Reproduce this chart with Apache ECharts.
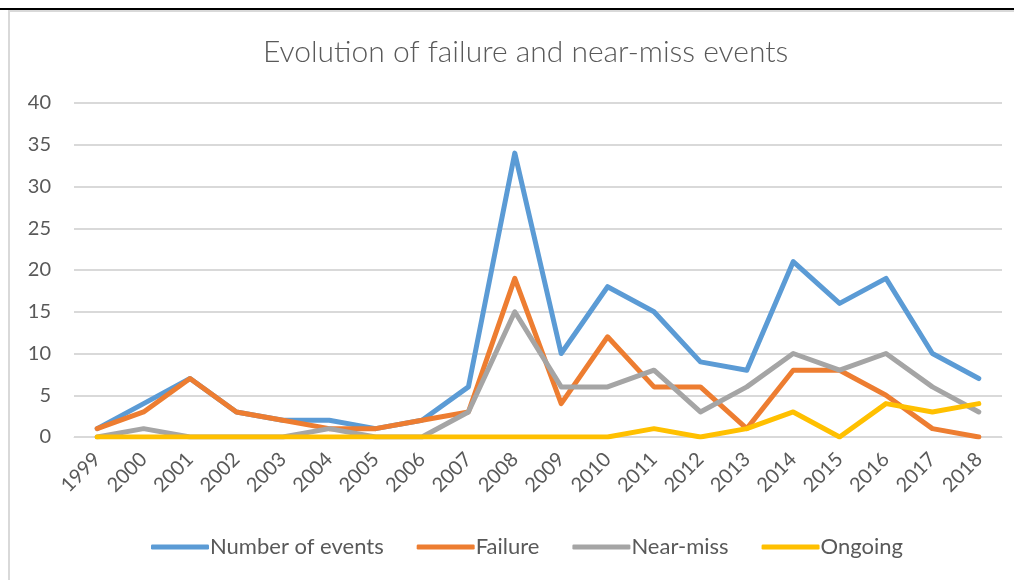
<!DOCTYPE html>
<html>
<head>
<meta charset="utf-8">
<script src="https://cdn.jsdelivr.net/npm/echarts@6/dist/echarts.min.js"></script>
<style>
html,body{margin:0;padding:0;background:#fff;}
#frame{position:absolute;left:0;top:0;width:1014px;height:580px;overflow:hidden;}
#topline{position:absolute;left:0;top:8px;width:1014px;height:2px;background:#000;}
#inner{position:absolute;left:8px;top:10px;width:1014px;height:580px;border-left:2px solid #d9d9d9;border-top:2px solid #d9d9d9;box-sizing:border-box;}
#chart{position:absolute;left:0;top:0;width:1014px;height:580px;}
</style>
</head>
<body>
<div id="frame">
<div id="inner"></div>
<div id="topline"></div>
<div id="chart"></div>
</div>
<script>
var years = ['1999','2000','2001','2002','2003','2004','2005','2006','2007','2008','2009','2010','2011','2012','2013','2014','2015','2016','2017','2018'];
var numberOfEvents = [1,4,7,3,2,2,1,2,6,34,10,18,15,9,8,21,16,19,10,7];
var failure = [1,3,7,3,2,1,1,2,3,19,4,12,6,6,1,8,8,5,1,0];
var nearMiss = [0,1,0,0,0,1,0,0,3,15,6,6,8,3,6,10,8,10,6,3];
var ongoing = [0,0,0,0,0,0,0,0,0,0,0,0,1,0,1,3,0,4,3,4];
var yTicks = [0,5,10,15,20,25,30,35,40];

var chart = echarts.init(document.getElementById('chart'), null, {renderer:'canvas'});
var font = 'Lato, "Open Sans", sans-serif';
function line(name, data, color){
  return {name:name, type:'line', data:data, symbol:'none', smooth:false,
    lineStyle:{width:5, color:color, cap:'round', join:'round'}, itemStyle:{color:color}};
}
chart.setOption({
  animation:false,
  backgroundColor:'transparent',
  title:{text:'Evolution of failure and near-miss events', left:258, top:32,
    textStyle:{fontFamily:font, fontSize:30, fontWeight:300, color:'#595959'}},
  grid:{left:74, right:12, top:103, bottom:143, containLabel:false},
  xAxis:{type:'category', data:years, boundaryGap:true,
    axisLine:{show:true, lineStyle:{color:'#d9d9d9', width:1}},
    axisTick:{show:false},
    axisLabel:{rotate:45, color:'#595959', fontFamily:font, fontSize:20, margin:19, interval:0}},
  yAxis:{type:'value', min:0, max:40, interval:5,
    axisLine:{show:false}, axisTick:{show:false},
    splitLine:{lineStyle:{color:'#d9d9d9', width:2}},
    axisLabel:{color:'#595959', fontFamily:font, fontSize:20, margin:23,
      formatter:function(v){return yTicks.indexOf(v)>=0 ? String(v) : '';}}},
  legend:{bottom:17, left:146, itemWidth:58, itemHeight:5, itemGap:33,
    icon:'roundRect',
    textStyle:{color:'#595959', fontFamily:font, fontSize:22, padding:[0,0,0,-4]},
    data:['Number of events','Failure','Near-miss','Ongoing']},
  series:[
    line('Number of events', numberOfEvents, '#5B9BD5'),
    line('Failure', failure, '#ED7D31'),
    line('Near-miss', nearMiss, '#A5A5A5'),
    line('Ongoing', ongoing, '#FFC000')
  ]
});
</script>
</body>
</html>
